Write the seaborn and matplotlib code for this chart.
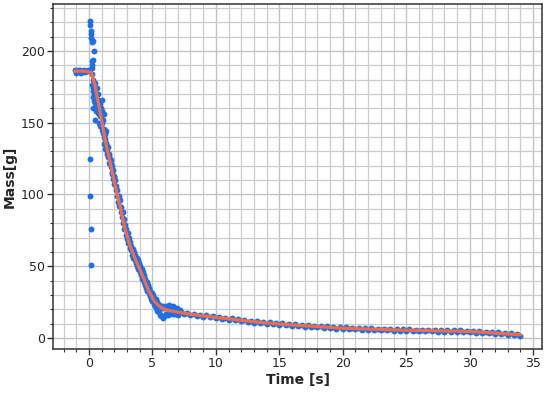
import matplotlib
matplotlib.use("Agg")
import matplotlib.pyplot as plt
from matplotlib.ticker import MultipleLocator
import pandas as pd
import seaborn as sns

time_flat = [-1.1, -1.0, -0.9, -0.8, -0.7, -0.6, -0.5, -0.4, -0.3, -0.2, -0.1, 0.0]
mass_flat = [187, 185, 186.5, 185.5, 187, 185, 186, 187, 185.5, 186, 187, 186]

time_spike = [0.10, 0.12, 0.15, 0.18, 0.16, 0.24, 0.32, 0.37, 0.32, 0.23, 0.21, 0.25,
              0.08, 0.12, 0.14, 0.13]
mass_spike = [221, 218, 214, 212, 209, 206, 207, 200, 194, 193, 190, 188,
              125, 99, 76, 51]

time_drop = [0.25, 0.3, 0.28, 0.35, 0.3, 0.4, 0.35, 0.45, 0.5, 0.45, 0.55, 0.6, 0.6, 0.65,
             0.7, 0.7, 0.75, 0.8, 0.85, 0.9, 0.9, 0.95, 1.0, 1.0, 1.05, 1.1, 1.1, 1.15,
             1.2, 1.2, 1.25, 1.3, 1.3, 1.35, 1.4, 1.4, 1.45, 1.5, 1.5, 1.55, 1.6, 1.6,
             1.65, 1.7, 1.7, 1.75, 1.8, 1.8, 1.85, 1.9, 1.9, 1.95, 2.0, 2.0,
             2.05, 2.1, 2.15, 2.2, 2.25, 2.3, 2.35, 2.4, 2.45, 2.5, 2.55, 2.6, 2.65, 2.7,
             2.75, 2.8, 2.85, 2.9, 2.95, 3.0, 3.05, 3.1, 3.15, 3.2, 3.25, 3.3, 3.35, 3.4,
             3.45, 3.5, 3.55, 3.6, 3.65, 3.7, 3.75, 3.8, 3.85, 3.9, 3.95, 4.0, 4.05, 4.1,
             4.15, 4.2, 4.25, 4.3, 4.35, 4.4, 4.45, 4.5, 4.55, 4.6, 4.65, 4.7, 4.75, 4.8,
             4.85, 4.9, 4.95, 5.0, 5.05, 5.1, 5.15, 5.2, 5.25, 5.3, 5.35, 5.4, 5.45, 5.5,
             5.55, 5.6, 5.65, 5.7, 5.75, 5.8, 5.85, 5.9, 5.95, 6.0, 6.05, 6.1, 6.15, 6.2,
             6.3, 6.4, 6.5, 6.6, 6.7, 6.8, 6.9, 7.0,
             0.3, 0.4, 0.5, 0.55, 0.75, 0.95, 1.15, 1.35, 1.05, 0.85, 6.3, 6.6, 6.9, 7.2]
mass_drop = [184, 180, 176, 172, 168, 165, 160, 178, 171, 152, 168, 174, 160, 165,
             170, 157, 162, 150, 160, 163, 148, 155, 158, 145, 150, 143, 152, 140,
             146, 135, 142, 132, 139, 136, 128, 134, 130, 126, 133, 127, 122, 128,
             125, 119, 124, 121, 114, 120, 116, 111, 117, 113, 107, 112,
             110, 103, 106, 99, 103, 95, 99, 92, 96, 88, 91, 84, 88, 80,
             83, 76, 79, 72, 76, 69, 73, 66, 70, 63, 67, 61, 64, 58,
             62, 56, 60, 54, 58, 52, 56, 50, 54, 48, 52, 46, 50, 44,
             48, 41, 46, 39, 44, 37, 41, 35, 39, 33, 37, 31, 35, 29,
             33, 27, 31, 26, 30, 24, 28, 22, 27, 21, 25, 19, 24, 18,
             23, 16, 22, 15, 21, 14, 22, 15, 21, 16, 22, 17, 21, 16,
             22, 17, 21, 16.5, 20.5, 17, 20, 16,
             174, 170, 164, 158, 166, 160, 156, 144, 166, 155, 23, 22, 21, 19.5]

time_tail = [7.25, 7.5, 7.75, 8.0, 8.25, 8.5, 8.75, 9.0, 9.25, 9.5, 9.75, 10.0,
             10.25, 10.5, 10.75, 11.0, 11.25, 11.5, 11.75, 12.0, 12.25, 12.5, 12.75, 13.0,
             13.25, 13.5, 13.75, 14.0, 14.25, 14.5, 14.75, 15.0, 15.25, 15.5, 15.75, 16.0,
             16.25, 16.5, 16.75, 17.0, 17.25, 17.5, 17.75, 18.0, 18.25, 18.5, 18.75, 19.0,
             19.25, 19.5, 19.75, 20.0, 20.25, 20.5, 20.75, 21.0, 21.25, 21.5, 21.75, 22.0,
             22.25, 22.5, 22.75, 23.0, 23.25, 23.5, 23.75, 24.0, 24.25, 24.5, 24.75, 25.0,
             25.25, 25.5, 25.75, 26.0, 26.25, 26.5, 26.75, 27.0, 27.25, 27.5, 27.75, 28.0,
             28.25, 28.5, 28.75, 29.0, 29.25, 29.5, 29.75, 30.0, 30.25, 30.5, 30.75, 31.0,
             31.25, 31.5, 31.75, 32.0, 32.25, 32.5, 32.75, 33.0, 33.25, 33.5, 33.75, 34.0]
mass_tail = [18.2, 16.7, 17.4, 15.9, 16.8, 15.4, 16.2, 14.8, 15.7, 14.3, 15.1, 13.7,
             14.7, 13.2, 14.1, 12.7, 13.7, 12.2, 13.1, 11.7, 12.7, 11.2, 12.1, 10.7,
             11.7, 10.2, 11.1, 9.9, 10.9, 9.5, 10.4, 9.1, 10.2, 8.8, 9.8, 8.5,
             9.6, 8.2, 9.2, 7.9, 9.0, 7.6, 8.6, 7.3, 8.4, 7.1, 8.0, 6.8,
             7.8, 6.5, 7.4, 6.2, 7.3, 6.0, 7.1, 5.9, 7.0, 5.8, 6.8, 5.6,
             6.7, 5.5, 6.5, 5.3, 6.5, 5.2, 6.2, 5.1, 6.2, 4.9, 6.0, 4.8,
             6.0, 4.7, 5.8, 4.6, 5.8, 4.6, 5.6, 4.5, 5.6, 4.4, 5.4, 4.3,
             5.5, 4.2, 5.3, 4.1, 5.3, 4.0, 5.1, 3.9, 5.0, 3.6, 4.6, 3.4,
             4.4, 3.1, 4.0, 2.8, 3.9, 2.5, 3.5, 2.2, 3.3, 1.9, 2.9, 1.6]

# fitted curve
fit_time = [-1.1, -0.3, 0.2, 0.45, 0.85, 1.25, 1.65, 2.05, 2.45, 2.85, 3.25, 3.65, 4.15,
            4.7, 5.2, 5.7, 6.2, 7, 8, 10, 12, 13.5, 15, 17, 20, 22, 25, 28, 30, 32, 34]
fit_mass = [186, 186, 185, 177, 159, 139, 123, 107, 92, 76, 64, 55, 45,
            33, 25, 21, 19.3, 18, 16.5, 14.3, 12.3, 10.8, 9.7, 8.5, 6.8, 6.2, 5.4, 4.9, 4.5, 3.4, 2.2]

samples = pd.DataFrame({
    "time": time_flat + time_spike + time_drop + time_tail,
    "mass": mass_flat + mass_spike + mass_drop + mass_tail,
})
fit = pd.DataFrame({"time": fit_time, "mass": fit_mass})

sns.set_style("white")
plt.rcParams['font.family'] = ['DejaVu Sans']

fig = plt.figure(figsize=(5.5, 3.95), dpi=100)
ax = fig.add_axes([0.0964, 0.1165, 0.8891, 0.8734])

sns.scatterplot(data=samples, x="time", y="mass", ax=ax, color="#1f6fe6",
                s=18, linewidth=0, zorder=3)
sns.lineplot(data=fit, x="time", y="mass", ax=ax, color="#f26b4b",
             linewidth=2.3, estimator=None, sort=False, zorder=4)

ax.set_xlim(-2.83, 35.7)
ax.set_ylim(-7.7, 232.8)
ax.xaxis.set_major_locator(MultipleLocator(5))
ax.xaxis.set_minor_locator(MultipleLocator(1))
ax.yaxis.set_major_locator(MultipleLocator(50))
ax.yaxis.set_minor_locator(MultipleLocator(10))

ax.grid(which="major", color="#c2c2c2", linewidth=1.0, zorder=0)
ax.grid(which="minor", color="#cccccc", linewidth=0.9, zorder=0)
ax.set_axisbelow(True)

ax.tick_params(which="major", direction="out", length=4, width=1, color="#333333",
               labelsize=9, pad=2, left=True, bottom=True)
ax.tick_params(which="minor", direction="out", length=2.5, width=0.8, color="#333333",
               left=True, bottom=True)
for sp in ax.spines.values():
    sp.set_color("#333333")
    sp.set_linewidth(1.1)

ax.set_xlabel("Time [s]", fontsize=10, fontweight="bold", labelpad=2)
ax.set_ylabel("Mass[g]", fontsize=10, fontweight="bold", labelpad=3)

fig.savefig("out.png", dpi=100)
